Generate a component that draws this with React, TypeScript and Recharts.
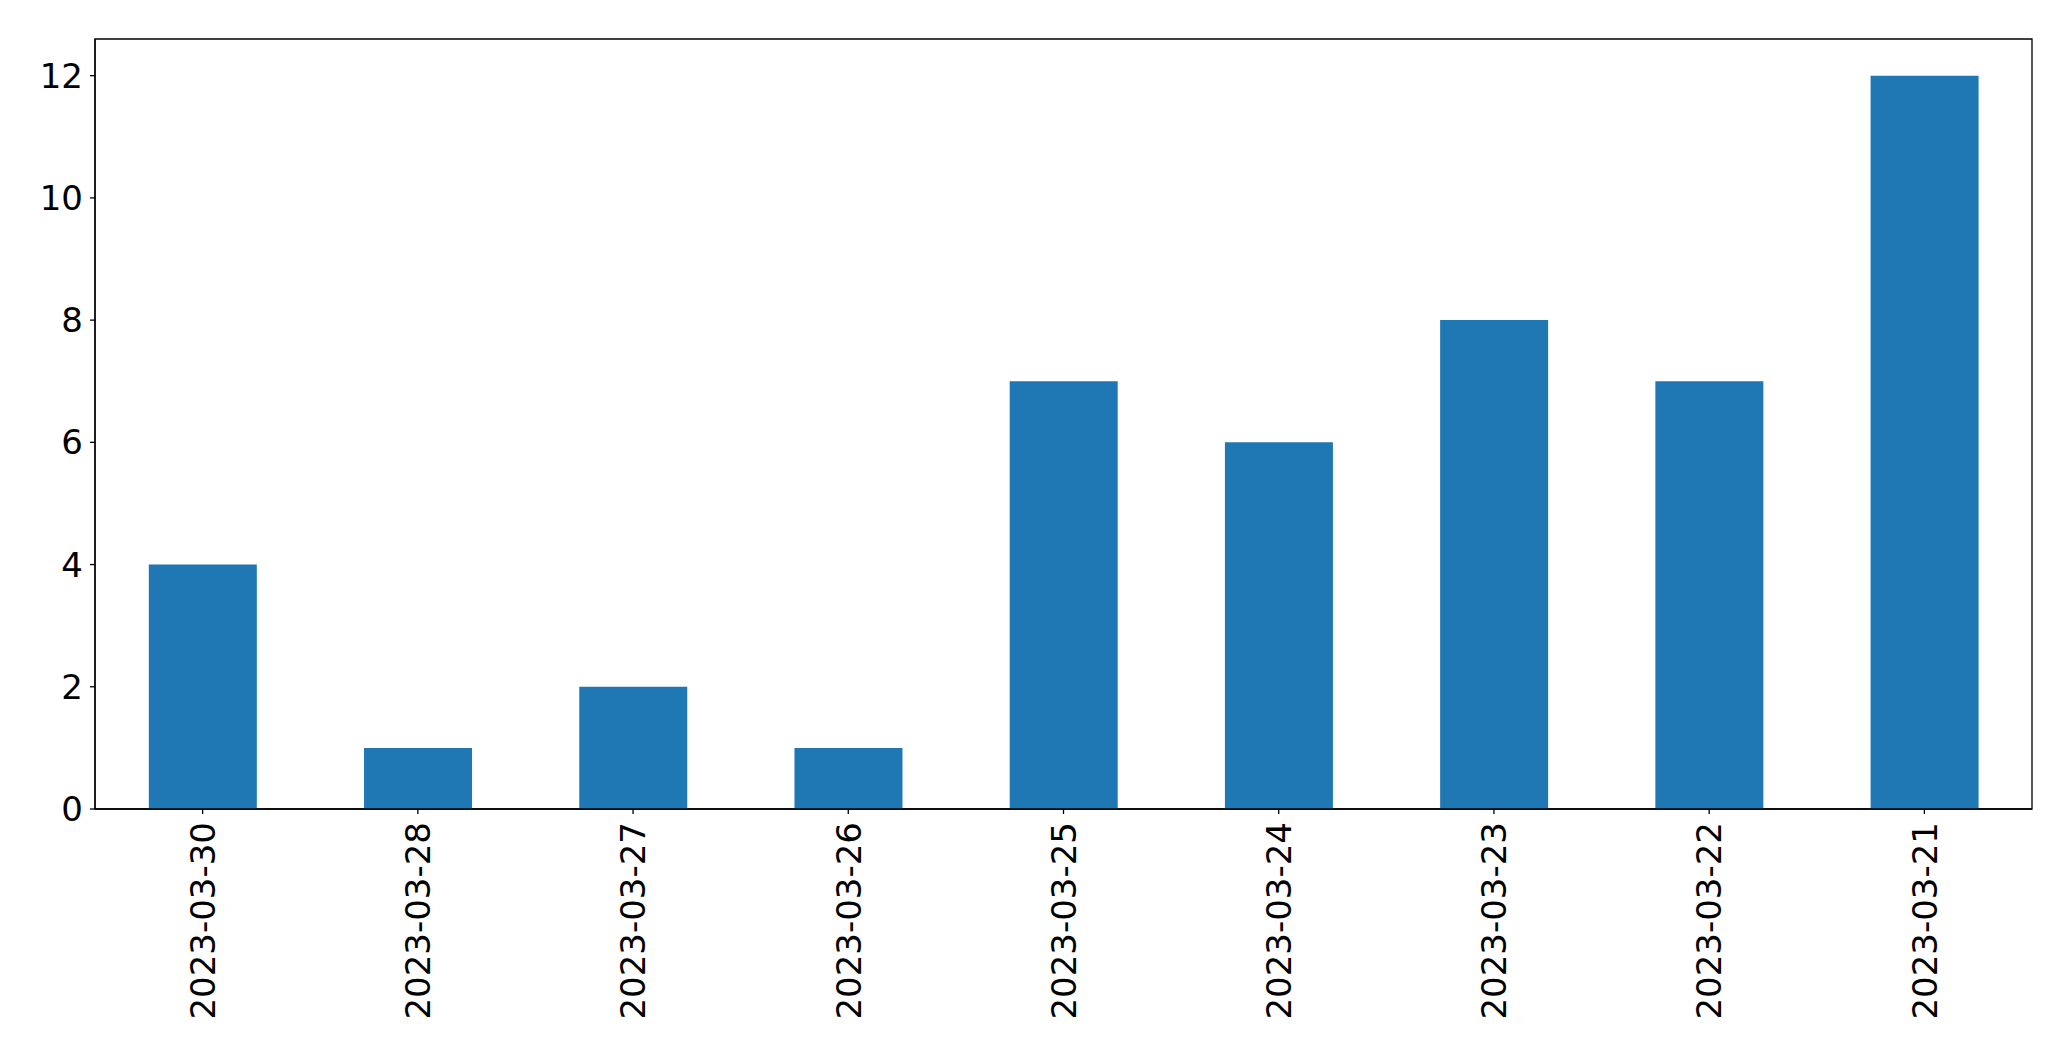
import { Bar, BarChart, ReferenceArea, XAxis, YAxis } from 'recharts'

const dates = ['2023-03-30', '2023-03-28', '2023-03-27', '2023-03-26', '2023-03-25', '2023-03-24', '2023-03-23', '2023-03-22', '2023-03-21']
const counts = [4, 1, 2, 1, 7, 6, 8, 7, 12]
const yTicks = [0, 2, 4, 6, 8, 10, 12]

const data = dates.map((date, i) => ({ date, count: counts[i] }))

const font = 'DejaVu Sans, sans-serif'

const DateTick = ({ x, y, payload }: any) => (
    <g transform={`translate(${x},${y})`}>
        <text transform="rotate(-90)" textAnchor="end" dy="0.36em" fontSize={34} fontFamily={font} fill="#000">
            {payload.value}
        </text>
    </g>
)

const App = () => {
    return (
        <div style={{ position: 'absolute', left: 0, top: 0, background: '#fff' }}>
            <BarChart width={2071} height={1061} data={data} margin={{ top: 39, right: 39, bottom: 0, left: 0 }} barCategoryGap="25%">
                <XAxis
                    dataKey="date"
                    height={252}
                    interval={0}
                    tick={<DateTick />}
                    tickSize={5}
                    tickMargin={8}
                    stroke="#000"
                    strokeWidth={1.3}
                />
                <YAxis
                    width={95}
                    domain={[0, 12.6]}
                    ticks={yTicks}
                    tickSize={5}
                    tickMargin={7}
                    stroke="#000"
                    strokeWidth={1.3}
                    tick={{ fontSize: 34, fontFamily: font, fill: '#000' }}
                />
                <Bar dataKey="count" fill="#1f77b4" isAnimationActive={false} />
                <ReferenceArea y1={0} y2={12.6} fill="none" fillOpacity={0} stroke="#000" strokeWidth={1.3} strokeOpacity={1} />
            </BarChart>
        </div>
    )
}

export default App
